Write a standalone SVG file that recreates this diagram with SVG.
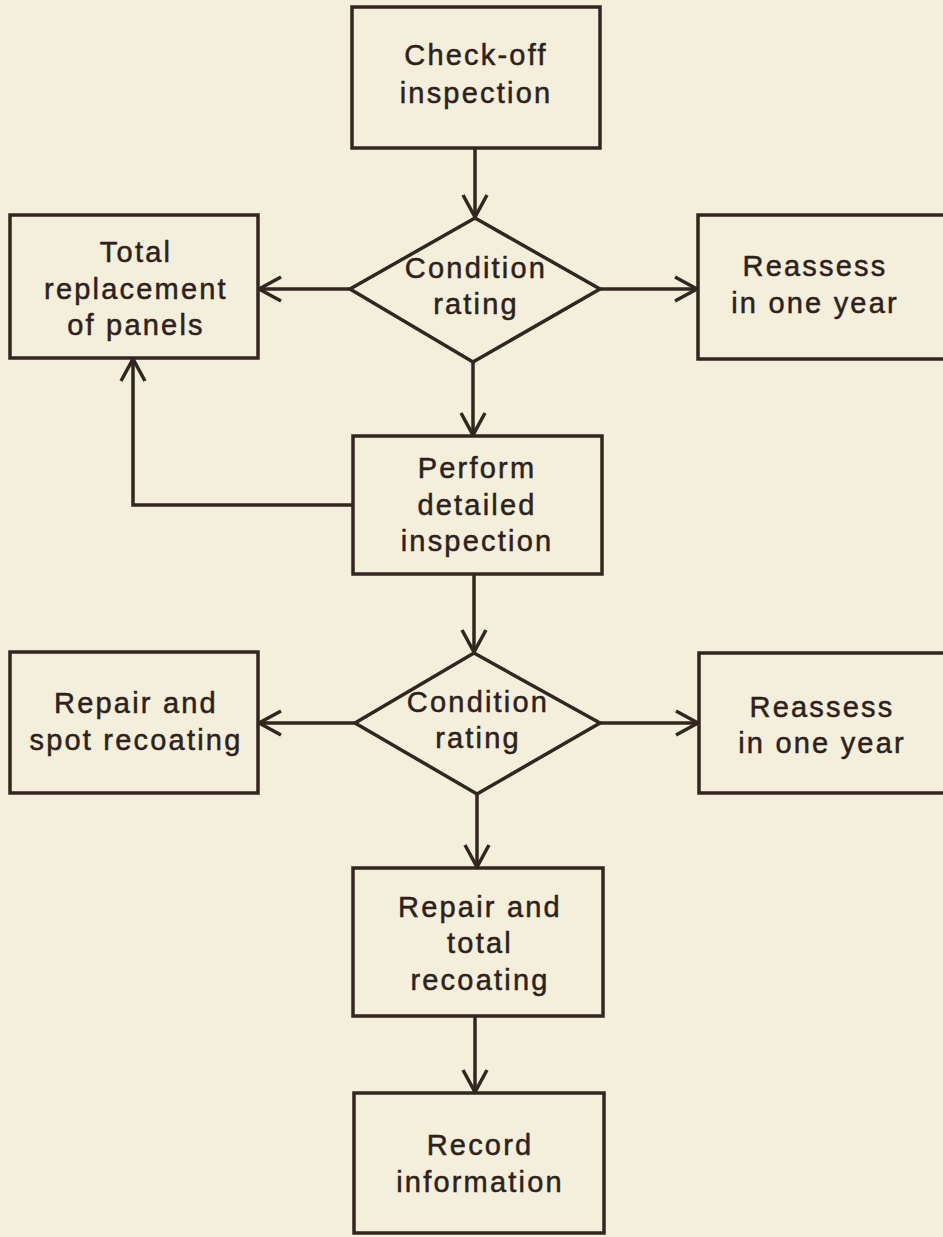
<svg xmlns="http://www.w3.org/2000/svg" width="943" height="1237" viewBox="0 0 943 1237">
<defs>
<style>
.bg{fill:#f4efdb}
.box{fill:#f4efdb;stroke:#33251f;stroke-width:3.5}
.line{fill:none;stroke:#33251f;stroke-width:3.5}
text{font-family:"Liberation Sans",Arial,sans-serif;font-size:29px;fill:#2e211b;stroke:#2e211b;stroke-width:0.5;text-anchor:middle;letter-spacing:2.2px}
</style>
<marker id="arr" viewBox="-24 -15 28 30" refX="0" refY="0" markerWidth="28" markerHeight="30" markerUnits="userSpaceOnUse" orient="auto">
<path d="M-22,-12 L0,0 L-22,12" fill="none" stroke="#33251f" stroke-width="3.5"/>
</marker>
</defs>
<rect class="bg" x="0" y="0" width="943" height="1237"/>
<g id="connectors">
<line class="line" x1="475" y1="148" x2="475" y2="217" marker-end="url(#arr)"/>
<line class="line" x1="350" y1="289" x2="259" y2="289" marker-end="url(#arr)"/>
<line class="line" x1="600" y1="289" x2="697" y2="289" marker-end="url(#arr)"/>
<line class="line" x1="473" y1="362" x2="473" y2="435" marker-end="url(#arr)"/>
<polyline class="line" points="353,505 133,505 133,359" marker-end="url(#arr)"/>
<line class="line" x1="474" y1="574" x2="474" y2="652" marker-end="url(#arr)"/>
<line class="line" x1="355" y1="723" x2="259" y2="723" marker-end="url(#arr)"/>
<line class="line" x1="600" y1="723" x2="698" y2="723" marker-end="url(#arr)"/>
<line class="line" x1="477" y1="794" x2="477" y2="867" marker-end="url(#arr)"/>
<line class="line" x1="475" y1="1016" x2="475" y2="1092" marker-end="url(#arr)"/>
</g>
<g id="checkoff">
<rect class="box" x="352" y="7" width="248" height="141"/>
<text x="476" y="65">Check-off</text>
<text x="476" y="103">inspection</text>
</g>
<g id="condition1">
<polygon class="box" points="475,218 600,289 473,362 350,289"/>
<text x="476" y="278">Condition</text>
<text x="476" y="314">rating</text>
</g>
<g id="total-replacement">
<rect class="box" x="10" y="215" width="248" height="143"/>
<text x="136" y="262">Total</text>
<text x="136" y="299">replacement</text>
<text x="136" y="335">of panels</text>
</g>
<g id="reassess1">
<rect class="box" x="698" y="215" width="260" height="144"/>
<text x="815" y="276">Reassess</text>
<text x="815" y="313">in one year</text>
</g>
<g id="detailed">
<rect class="box" x="353" y="436" width="249" height="138"/>
<text x="477" y="478">Perform</text>
<text x="477" y="515">detailed</text>
<text x="477" y="551">inspection</text>
</g>
<g id="condition2">
<polygon class="box" points="474,653 600,723 477,794 355,723"/>
<text x="478" y="712">Condition</text>
<text x="478" y="748">rating</text>
</g>
<g id="spot-recoating">
<rect class="box" x="10" y="652" width="248" height="141"/>
<text x="136" y="713">Repair and</text>
<text x="136" y="750">spot recoating</text>
</g>
<g id="reassess2">
<rect class="box" x="699" y="653" width="260" height="140"/>
<text x="822" y="717">Reassess</text>
<text x="822" y="753">in one year</text>
</g>
<g id="total-recoating">
<rect class="box" x="353" y="868" width="250" height="148"/>
<text x="480" y="917">Repair and</text>
<text x="480" y="953">total</text>
<text x="480" y="990">recoating</text>
</g>
<g id="record">
<rect class="box" x="354" y="1093" width="250" height="140"/>
<text x="480" y="1155">Record</text>
<text x="480" y="1192">information</text>
</g>
</svg>
